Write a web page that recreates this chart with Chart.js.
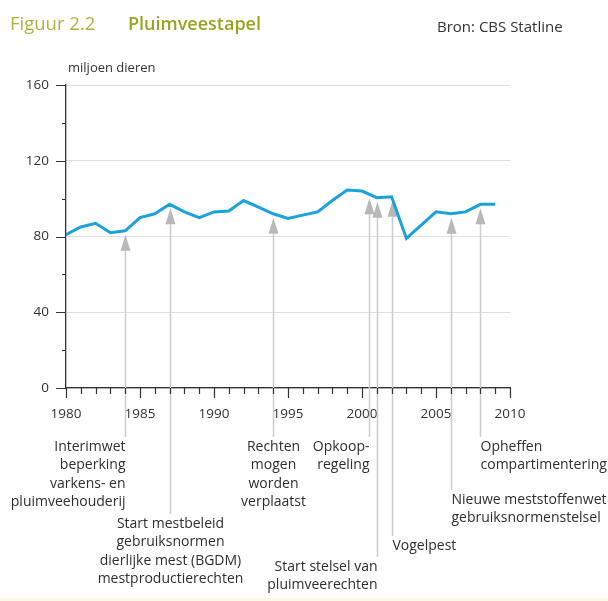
<!DOCTYPE html>
<html>
<head>
<meta charset="utf-8">
<script src="https://cdn.jsdelivr.net/npm/chart.js@4.4.1/dist/chart.umd.min.js"></script>
<style>
	body { margin: 0; background: #fff; }
	#wrap { width: 608px; height: 601px; position: relative; }
</style>
</head>
<body>
<div id="wrap"><canvas id="stockChart"></canvas></div>
<script>
const years = [1980, 1981, 1982, 1983, 1984, 1985, 1986, 1987, 1988, 1989,
	1990, 1991, 1992, 1993, 1994, 1995, 1996, 1997, 1998, 1999,
	2000, 2001, 2002, 2003, 2004, 2005, 2006, 2007, 2008, 2009];
// poultry stock, million animals
const poultry = [81, 85, 87, 82, 83, 90, 92, 97, 93, 90,
	93, 93.5, 99, 95.5, 92, 89.5, 91.3, 93, 99, 104.5,
	104, 100.5, 101, 79, 86, 93, 92, 93, 97, 97];
const yTicks = [0, 40, 80, 120, 160];
const xTicks = [1980, 1985, 1990, 1995, 2000, 2005, 2010];

// policy events marked with an arrow
const eventYears = [1984, 1987, 1994, 2000.5, 2001, 2002, 2006, 2008];
const eventLabels = [
	["Interimwet", "beperking", "varkens- en", "pluimveehouderij"],
	["Start mestbeleid", "gebruiksnormen", "dierlijke mest (BGDM)", "mestproductierechten"],
	["Rechten", "mogen", "worden", "verplaatst"],
	["Opkoop-", "regeling"],
	["Start stelsel van", "pluimveerechten"],
	["Vogelpest"],
	["Nieuwe meststoffenwet", "gebruiksnormenstelsel"],
	["Opheffen", "compartimentering"],
];
// text alignment and first line position for each event label
const eventLayout = [
	{ align: "right", top: 447 },
	{ align: "center", top: 524 },
	{ align: "center", top: 447 },
	{ align: "right", top: 447 },
	{ align: "right", top: 567 },
	{ align: "left", top: 546 },
	{ align: "left", top: 500 },
	{ align: "left", top: 447 },
];

const FONT = "'Open Sans', 'Noto Sans', sans-serif";

function valueAt(yr) {
	const i = Math.floor(yr - years[0]);
	const f = yr - years[i];
	if (f === 0 || i + 1 >= poultry.length) return poultry[i];
	return poultry[i] + (poultry[i + 1] - poultry[i]) * f;
}

const decorations = {
	id: "decorations",
	beforeDraw(chart) {
		const { ctx } = chart;
		ctx.save();
		ctx.fillStyle = "#fcf9e4";
		ctx.fillRect(0, 598, chart.width, 3);

		ctx.textBaseline = "middle";
		ctx.textAlign = "left";
		ctx.fillStyle = "#abb43e";
		ctx.font = "18.5px " + FONT;
		ctx.fillText("Figuur 2.2", 10, 25);
		ctx.fillStyle = "#98a322";
		ctx.font = "600 18px " + FONT;
		ctx.fillText("Pluimveestapel", 128, 25);
		ctx.fillStyle = "#333";
		ctx.font = "15px " + FONT;
		ctx.fillText("Bron: CBS Statline", 437, 28);
		ctx.font = "13px " + FONT;
		ctx.fillText("miljoen dieren", 68, 68);
		ctx.restore();
	},
	beforeDatasetsDraw(chart) {
		const { ctx, scales: { x, y } } = chart;
		ctx.save();
		eventYears.forEach((yr, i) => {
			const px = Math.round(x.getPixelForValue(yr)) + 0.5;
			const tip = y.getPixelForValue(valueAt(yr)) + 4;
			const lay = eventLayout[i];
			// stem
			ctx.strokeStyle = "#cccccc";
			ctx.lineWidth = 1.5;
			ctx.beginPath();
			ctx.moveTo(px, tip + 14);
			ctx.lineTo(px, lay.top - 10);
			ctx.stroke();
			// arrow head
			ctx.fillStyle = "#b8b8b8";
			ctx.beginPath();
			ctx.moveTo(px, tip);
			ctx.lineTo(px - 5, tip + 16);
			ctx.lineTo(px + 5, tip + 16);
			ctx.closePath();
			ctx.fill();
			// label
			ctx.fillStyle = "#2e2e2e";
			ctx.font = "14px " + FONT;
			ctx.textBaseline = "middle";
			ctx.textAlign = lay.align;
			eventLabels[i].forEach((line, j) => {
				ctx.fillText(line, px, lay.top + j * 18.5);
			});
		});
		ctx.restore();
	},
	afterDraw(chart) {
		const { ctx, scales: { x, y } } = chart;
		ctx.save();
		ctx.strokeStyle = "#333";
		ctx.lineWidth = 1.2;
		ctx.beginPath();
		for (let v = 0; v <= 160; v += 20) {
			const py = Math.round(y.getPixelForValue(v)) + 0.5;
			const len = v % 40 === 0 ? 10 : 4;
			ctx.moveTo(x.left - len, py);
			ctx.lineTo(x.left, py);
		}
		for (let yr = 1980; yr <= 2010; yr++) {
			const px = Math.round(x.getPixelForValue(yr)) + 0.5;
			const len = yr % 5 === 0 ? 10 : 6;
			ctx.moveTo(px, y.bottom);
			ctx.lineTo(px, y.bottom + len);
		}
		ctx.stroke();
		ctx.restore();
	},
};

const ctx = document.getElementById("stockChart").getContext("2d");
const stockChart = new Chart(ctx, {
	type: "line",
	data: {
		datasets: [
			{
				label: "Pluimveestapel",
				data: years.map((yr, i) => ({ x: yr, y: poultry[i] })),
				borderColor: "#1ca2da",
				borderWidth: 3,
				tension: 0,
				fill: false,
				pointRadius: 0,
			},
		],
	},
	options: {
		responsive: true,
		maintainAspectRatio: false,
		animation: false,
		layout: { padding: { top: 85, right: 98, left: 0, bottom: 0 } },
		scales: {
			x: {
				type: "linear",
				min: 1980,
				max: 2010,
				afterFit: (s) => { s.height = 213; },
				afterBuildTicks: (s) => { s.ticks = xTicks.map((v) => ({ value: v })); },
				grid: { display: false },
				border: { display: true, color: "#333", width: 1.3 },
				ticks: {
					padding: 10,
					color: "#333",
					font: { family: FONT, size: 13.5 },
					callback: (v) => String(v),
				},
			},
			y: {
				min: 0,
				max: 160,
				afterFit: (s) => { s.width = 66; },
				afterBuildTicks: (s) => { s.ticks = yTicks.map((v) => ({ value: v })); },
				grid: { color: "#dedede", lineWidth: 1, drawTicks: false },
				border: { display: true, color: "#333", width: 1.3 },
				ticks: {
					padding: 17,
					color: "#333",
					font: { family: FONT, size: 13.5 },
					callback: (v) => String(v),
				},
			},
		},
		plugins: {
			legend: { display: false },
			tooltip: { enabled: false },
		},
	},
	plugins: [decorations],
});
</script>
</body>
</html>
